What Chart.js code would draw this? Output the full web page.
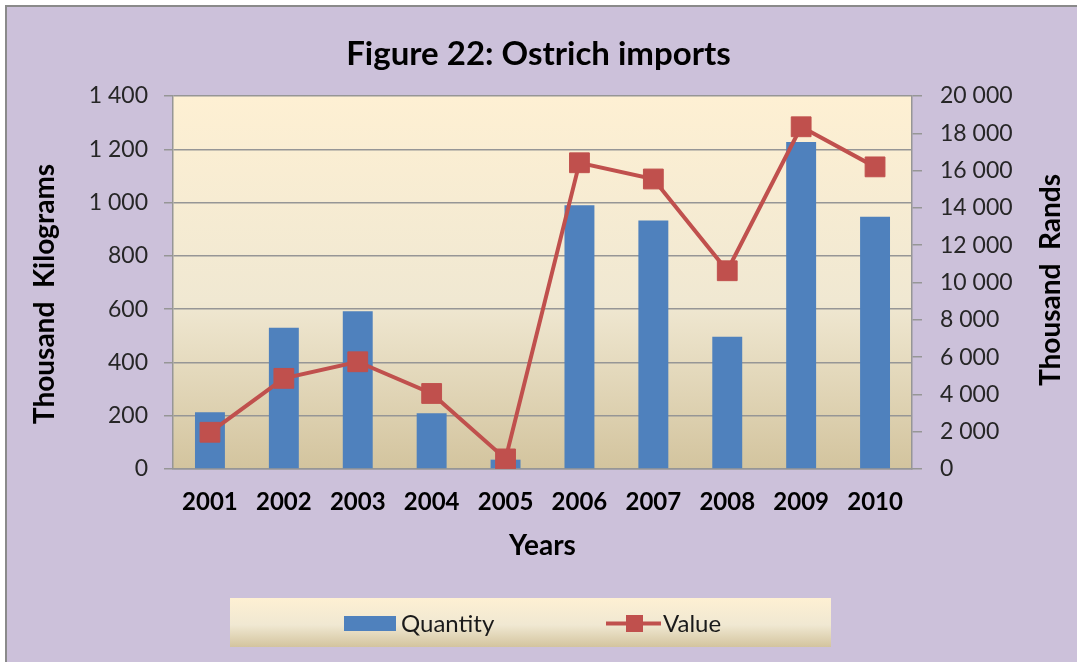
<!DOCTYPE html>
<html>
<head>
<meta charset="utf-8">
<script src="https://cdn.jsdelivr.net/npm/chart.js@4.4.1/dist/chart.umd.min.js"></script>
<style>
	html, body { margin: 0; padding: 0; background: #ffffff; }
	canvas { display: block; }
</style>
</head>
<body>
<canvas id="chart" width="1077" height="662"></canvas>
<script>
// values
const years = ["2001", "2002", "2003", "2004", "2005", "2006", "2007", "2008", "2009", "2010"];
const quantity = [213, 530, 592, 209, 35, 990, 933, 496, 1227, 947];   // thousand kg
const value = [1970, 4860, 5750, 4050, 540, 16420, 15550, 10630, 18350, 16200];   // thousand rands

const leftTitle = "Thousand  Kilograms";
const rightTitle = "Thousand  Rands";

const blue = "#4f81bd";
const red = "#c0504d";
const purple = "#ccc1da";
const gridGray = "#969696";

function spaced(v) {
	return String(v).replace(/\B(?=(\d{3})+(?!\d))/g, " ");
}

function creamGradient(ctx, top, bottom) {
	let g = ctx.createLinearGradient(0, top, 0, bottom);
	g.addColorStop(0, "#fef0d3");
	g.addColorStop(0.55, "#f0e8d2");
	g.addColorStop(1, "#d3c49e");
	return g;
}

const decor = {
	id: "decor",
	beforeDraw(chart) {
		const ctx = chart.ctx;
		const a = chart.chartArea;
		ctx.save();
		ctx.fillStyle = "#ffffff";
		ctx.fillRect(0, 0, chart.width, chart.height);
		ctx.fillStyle = purple;
		ctx.fillRect(6, 6, chart.width - 6, chart.height - 6);
		ctx.strokeStyle = "#8a8a8a";
		ctx.lineWidth = 2;
		ctx.beginPath();
		ctx.moveTo(6, chart.height);
		ctx.lineTo(6, 6);
		ctx.lineTo(chart.width, 6);
		ctx.stroke();
		ctx.fillStyle = creamGradient(ctx, a.top, a.bottom);
		ctx.fillRect(a.left, a.top, a.right - a.left, a.bottom - a.top);
		ctx.restore();
	},
	afterDraw(chart) {
		const ctx = chart.ctx;
		ctx.save();
		// vertical axis titles, both reading bottom to top
		ctx.fillStyle = "#000000";
		ctx.font = "bold 28px Lato";
		ctx.textAlign = "center";
		ctx.textBaseline = "middle";
		[[45, 294, leftTitle], [1051, 280, rightTitle]].forEach(function(t) {
			ctx.save();
			ctx.translate(t[0], t[1]);
			ctx.rotate(-Math.PI / 2);
			ctx.fillText(t[2], 0, 0);
			ctx.restore();
		});

		// legend box
		const ds = chart.data.datasets;
		ctx.fillStyle = creamGradient(ctx, 598, 647);
		ctx.fillRect(230, 598, 601, 49);
		ctx.fillStyle = ds[0].backgroundColor;
		ctx.fillRect(344, 616, 52, 15);
		ctx.strokeStyle = ds[1].borderColor;
		ctx.lineWidth = 4;
		ctx.beginPath();
		ctx.moveTo(606, 623.5);
		ctx.lineTo(661, 623.5);
		ctx.stroke();
		ctx.fillStyle = ds[1].pointBackgroundColor;
		ctx.fillRect(626, 615, 17, 17);
		ctx.fillStyle = "#1a1a1a";
		ctx.font = "24px Lato";
		ctx.textAlign = "left";
		ctx.fillText(ds[0].label, 401, 624);
		ctx.fillText(ds[1].label, 663, 624);
		ctx.restore();
	}
};

Chart.defaults.font.family = "Lato";
Chart.defaults.color = "#262626";

const ctx = document.getElementById("chart").getContext("2d");

const chart = new Chart(ctx, {
	type: "bar",
	data: {
		labels: years,
		datasets: [
			{
				type: "bar",
				label: "Quantity",
				data: quantity,
				yAxisID: "y",
				backgroundColor: blue,
				borderWidth: 0,
				categoryPercentage: 0.45,
				barPercentage: 0.9,
				order: 1,
			},
			{
				type: "line",
				label: "Value",
				data: value,
				yAxisID: "y2",
				borderColor: red,
				borderWidth: 4,
				pointStyle: "rect",
				pointRadius: 14,
				pointBackgroundColor: red,
				pointBorderColor: red,
				pointBorderWidth: 1,
				tension: 0,
				order: 0,
			},
		],
	},
	plugins: [decor],
	options: {
		responsive: false,
		animation: false,
		devicePixelRatio: 1,
		layout: {
			padding: { left: 0, right: 0, top: 0, bottom: 99 }
		},
		plugins: {
			legend: { display: false },
			tooltip: { enabled: false },
			title: {
				display: true,
				text: "Figure 22: Ostrich imports",
				color: "#000000",
				font: { size: 33, weight: "bold" },
				padding: { top: 34.2, bottom: 22.2 },
			},
		},
		scales: {
			x: {
				grid: { display: false, drawTicks: false },
				border: { display: true, color: gridGray, width: 1.5 },
				ticks: {
					color: "#000000",
					font: { size: 24, weight: "bold" },
					padding: 19,
				},
				title: {
					display: true,
					text: "Years",
					color: "#000000",
					font: { size: 28, weight: "bold" },
					padding: { top: 0, bottom: 0 },
				},
				afterFit: function(scale) {
					scale.height = 94;
				},
			},
			y: {
				position: "left",
				min: 0,
				max: 1400,
				grid: { color: gridGray, lineWidth: 1.5, tickLength: 9 },
				border: { display: true, color: gridGray, width: 1.5 },
				ticks: {
					stepSize: 200,
					font: { size: 23 },
					padding: 16,
					callback: function(v) {
						return spaced(v);
					}
				},
				afterFit: function(scale) {
					scale.width = 173;
				},
			},
			y2: {
				position: "right",
				min: 0,
				max: 20000,
				grid: { drawOnChartArea: false, color: gridGray, lineWidth: 1.5, tickLength: 10 },
				border: { display: true, color: gridGray, width: 1.5 },
				ticks: {
					stepSize: 2000,
					font: { size: 23 },
					padding: 18,
					callback: function(v) {
						return spaced(v);
					}
				},
				afterFit: function(scale) {
					scale.width = 165;
				},
			},
		},
	},
});
</script>
</body>
</html>
